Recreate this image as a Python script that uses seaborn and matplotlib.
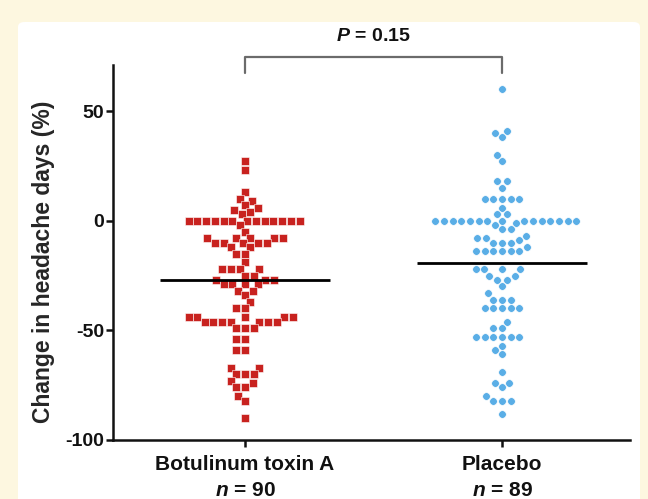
import numpy as np
import pandas as pd
import seaborn as sns
from matplotlib import pyplot as plt
from matplotlib.patches import FancyBboxPatch

groups = ['Botulinum toxin A', 'Placebo']
n_labels = ['$n$ = 90', '$n$ = 89']

botox = [27, 23, 13, 10, 9, 7, 5, 4, 3, 6,
         0, 0, 0, 0, 0, 0, 0, 0, 0, 0, 0, 0, 0, -2,
         -5, -8, -8, -8, -8, -8, -10, -10, -10, -10, -10, -12, -12, -15, -15, -19,
         -22, -22, -22, -22, -25, -25, -27, -27, -27, -29, -29, -29, -29, -32, -32, -34,
         -37, -40, -40, -44, -44, -44, -44, -44, -46, -46, -46, -46, -46, -46, -46,
         -49, -49, -49, -54, -54, -59, -59,
         -67, -67, -70, -70, -70, -73, -74, -76, -76, -80, -82, -90]
placebo = [60, 41, 40, 38, 30, 27, 18, 18, 15, 10, 10, 10, 10, 10, 6, 3, 3,
           0, 0, 0, 0, 0, 0, 0, 0, 0, 0, 0, 0, 0, 0, 0, -1,
           -2, -4, -4, -7, -8, -8, -9, -10, -10, -10, -12, -14, -14, -14, -14, -14, -14,
           -22, -22, -22, -22, -25, -25, -27, -27, -30, -33, -36, -36, -36,
           -40, -40, -40, -40, -40, -46, -49, -49, -53, -53, -53, -53, -53, -53, -57, -59, -61,
           -69, -74, -74, -76, -80, -82, -82, -82, -88]
p_text = '$P$ = 0.15'

red = '#c8221f'
blue = '#5aaee6'

sns.set_style('ticks')
plt.rcParams['font.family'] = ['Liberation Sans', 'DejaVu Sans']
plt.rcParams['font.weight'] = 'bold'
plt.rcParams['axes.unicode_minus'] = False
plt.rcParams['mathtext.fontset'] = 'custom'
plt.rcParams['mathtext.it'] = 'Liberation Sans:italic:bold'
plt.rcParams['mathtext.rm'] = 'Liberation Sans:bold'

fig = plt.figure(figsize=(6.48, 4.99), dpi=100)
fig.patch.set_facecolor('#fdf7e0')
panel = FancyBboxPatch((18 / 648, -0.05), 622 / 648, (499 - 22) / 499 + 0.05,
                       boxstyle='round,pad=0,rounding_size=0.01',
                       transform=fig.transFigure, facecolor='white', edgecolor='none', zorder=-5)
fig.patches.append(panel)

ax = fig.add_axes([113 / 648, 59 / 499, 517 / 648, 375 / 499])
ax.set_zorder(2)
ax.set_facecolor('none')

df_b = pd.DataFrame({'group': groups[0], 'value': botox})
df_p = pd.DataFrame({'group': groups[1], 'value': placebo})
sns.swarmplot(data=df_b, x='group', y='value', order=groups, marker='s', color=red,
              size=5.6, linewidth=0.4, edgecolor='white', ax=ax)
sns.swarmplot(data=df_p, x='group', y='value', order=groups, marker='o', color=blue,
              size=5.5, linewidth=0.45, edgecolor='white', ax=ax)

# mean lines
for i, vals in enumerate([botox, placebo]):
    ax.hlines(np.mean(vals), i - 0.33, i + 0.33, color='black', lw=2, zorder=5)

ax.set_xlim(-0.514, 1.498)
ax.set_ylim(-100, 71)
ax.set_yticks([-100, -50, 0, 50])
ax.set_xticks([0, 1])
ax.set_xticklabels([f'{g}\n{n}' for g, n in zip(groups, n_labels)], fontsize=15, fontweight='bold',
                   linespacing=1.45)
for lab in ax.get_yticklabels():
    lab.set_fontsize(14)
    lab.set_fontweight('bold')
ax.set_xlabel('')
ax.set_ylabel('Change in headache days (%)', fontsize=16.5, fontweight='bold')
ax.yaxis.set_label_coords(-0.112, 0.475)
sns.despine(ax=ax)
for side in ['left', 'bottom']:
    ax.spines[side].set_linewidth(1.8)
    ax.spines[side].set_color('#111111')
ax.tick_params(axis='both', width=1.8, length=5, color='#111111', labelcolor='#111111', pad=1.5)
ax.tick_params(axis='x', pad=6)

# significance bracket
ax.plot([0, 0, 1, 1], [67.5, 74.5, 74.5, 67.5], color='#6b6b6b', lw=1.6, clip_on=False)
ax.text(0.5, 80, p_text, ha='center', va='bottom', fontsize=14, fontweight='bold', color='#111111')

fig.savefig('out.png', dpi=100, facecolor=fig.get_facecolor())
